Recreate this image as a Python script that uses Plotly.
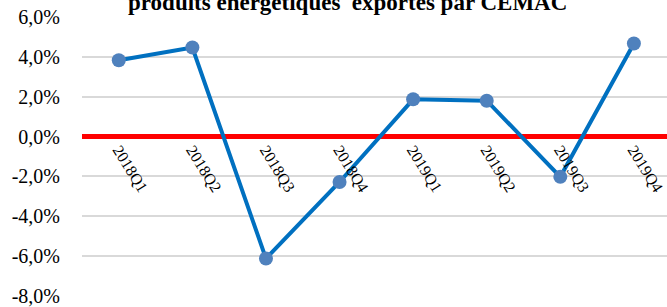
import plotly.graph_objects as go

categories = ["2018Q1", "2018Q2", "2018Q3", "2018Q4", "2019Q1", "2019Q2", "2019Q3", "2019Q4"]
values = [3.83, 4.47, -6.12, -2.28, 1.87, 1.80, -2.02, 4.67]
yticks = [6, 4, 2, 0, -2, -4, -6, -8]
ytick_labels = ["6,0%", "4,0%", "2,0%", "0,0%", "-2,0%", "-4,0%", "-6,0%", "-8,0%"]
title_text = "produits énergétiques  exportés par CEMAC"

fig = go.Figure()
fig.add_trace(go.Scatter(
    x=list(range(len(categories))), y=values, mode="lines+markers",
    line=dict(color="#0070C0", width=4),
    marker=dict(color="#4F81BD", size=14),
    showlegend=False, hoverinfo="skip",
))

fig.update_layout(
    width=667, height=307,
    margin=dict(l=82, r=0, t=17, b=11),
    paper_bgcolor="white", plot_bgcolor="white",
    font=dict(family="Liberation Serif", color="#000000"),
    xaxis=dict(
        range=[-0.5, 7.45], tickmode="array",
        tickvals=list(range(len(categories))), ticktext=categories,
        tickangle=58, showgrid=False, zeroline=False, showline=False,
        anchor="free", position=8/14, side="bottom",
        tickfont=dict(family="Liberation Serif", size=16, color="#000000"),
        ticks="",
    ),
    yaxis=dict(
        range=[-8, 6], tickmode="array", tickvals=yticks, ticktext=ytick_labels,
        showgrid=True, gridcolor="#D9D9D9", gridwidth=1.5,
        zeroline=True, zerolinecolor="#FF0000", zerolinewidth=5,
        showline=False, ticks="", ticklabelstandoff=21,
        tickfont=dict(family="Liberation Serif", size=20, color="#000000"),
    ),
    annotations=[dict(
        text="<b>" + title_text + "</b>", xref="paper", yref="paper",
        x=(347 - 82) / 585, y=1 + 15 / 279, xanchor="center", yanchor="middle",
        showarrow=False, font=dict(family="Liberation Serif", size=23, color="#000000"),
    )],
)

fig.write_html("out.html", config={"displayModeBar": False},
               post_script="document.body.style.margin='0';document.body.style.overflow='hidden';")
